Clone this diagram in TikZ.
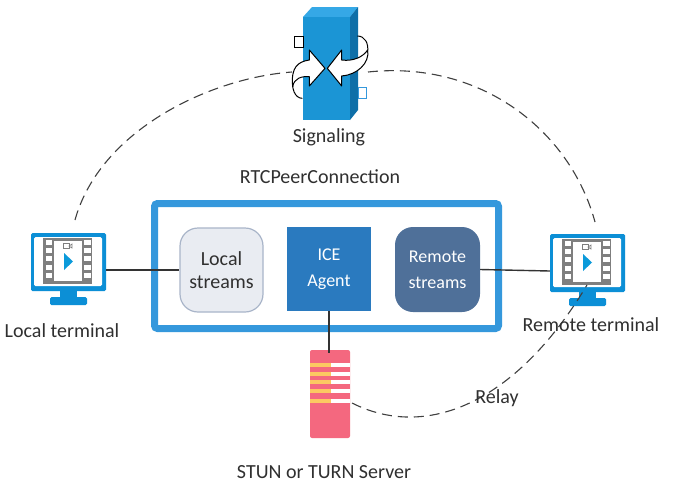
\documentclass[tikz,border=0pt]{standalone}
\usepackage{fontspec}
\setmainfont{Carlito}
\definecolor{txt}{HTML}{303030}
\definecolor{blu}{HTML}{0C8FD6}
\definecolor{boxblu}{HTML}{3598DC}
\definecolor{ice}{HTML}{2A7ABF}
\definecolor{rem}{HTML}{4F7099}
\definecolor{loc}{HTML}{E9ECF2}
\definecolor{locb}{HTML}{A9B5C9}
\definecolor{srv}{HTML}{F4687F}
\definecolor{yel}{HTML}{FCC862}
\definecolor{film}{HTML}{7F7F7F}
\definecolor{face}{HTML}{1B95D5}
\definecolor{topf}{HTML}{35A8E6}
\definecolor{sidef}{HTML}{0F6FA8}
\tikzset{
  x=1pt,y=-1pt,
  lbl/.style={font=\fontsize{20}{23}\selectfont,text=txt,inner sep=0pt,align=center},
  wlbl/.style={lbl,text=white,font=\fontsize{18}{26}\selectfont},
  conn/.style={draw=black!80,line width=1.4pt},
  dashline/.style={draw=black!75,line width=1.1pt,dash pattern=on 10pt off 6pt},
  arrowf/.style={fill=white,draw=black,line width=1pt,line join=round},
  monitor/.pic={
    \fill[blu,rounded corners=1.5pt] (0,0) rectangle (75,58);
    \fill[white,rounded corners=1.5pt] (3,4) rectangle (71,53);
    \fill[blu] (29,57) rectangle (46,65);
    \fill[blu,rounded corners=1.5pt] (19,64) rectangle (56,72);
    \fill[film] (12,5) rectangle (61,51);
    \fill[white] (23,8) rectangle (51,48);
    \foreach \yy in {7,15,23,32,40}{
      \fill[white] (14.5,\yy) rectangle (21,\yy+5);
      \fill[white] (53,\yy) rectangle (59.5,\yy+5);
    }
    \fill[blu!90!cyan] (33,20) -- (42,28.5) -- (33,37) -- cycle;
    \draw[film,line width=.7pt] (32.5,10) rectangle (38,15.5);
    \draw[film,line width=.7pt] (38,13) -- (41,11) -- (41,15) -- cycle;
  }
}
\begin{document}
\begin{tikzpicture}
\useasboundingbox[fill=white] (0,0) rectangle (675,488);
% named nodes
\node[minimum width=75pt,minimum height=58pt,inner sep=0pt] (lt) at (68.5,262) {};
\node[minimum width=75pt,minimum height=58pt,inner sep=0pt] (rt) at (587.5,263) {};
\node[minimum width=47pt,minimum height=103pt,inner sep=0pt] (sig) at (326.5,68.5) {};
% dashed curves
\coordinate (a1) at (75,220);
\coordinate (a2) at (292,72);
\coordinate (a3) at (368,72);
\coordinate (a4) at (595,222);
\coordinate (a5) at (352,403);
\coordinate (a6) at (587,285);
\draw[dashline] (a1) .. controls (100,130) and (210,78) .. (a2);
\draw[dashline] (a3) .. controls (480,60) and (570,130) .. (a4);
% main box
\node[draw=boxblu,line width=7pt,rounded corners=3pt,minimum width=344pt,minimum height=125pt,inner sep=0pt] (rtc) at (326.5,266) {};
\node[draw=locb,fill=loc,line width=1.2pt,rounded corners=18pt,minimum width=83pt,minimum height=84pt,inner sep=0pt,lbl] (ls) at (221.5,270) {Local\\streams};
\node[fill=ice,minimum width=84pt,minimum height=84pt,inner sep=0pt,wlbl] (ice) at (329,269) {ICE\\Agent};
\node[fill=rem,rounded corners=18pt,minimum width=85pt,minimum height=85pt,inner sep=0pt,wlbl] (rs) at (437.5,269.5) {Remote\\streams};
% monitors
\pic at (31,233) {monitor};
\pic at (550,234) {monitor};
% server
\node[fill=srv,rounded corners=2pt,minimum width=40pt,minimum height=88pt,inner sep=0pt] (srvn) at (330,394) {};
\foreach \yy in {365,374,382,391,401}{
  \fill[yel] (310,\yy-1.9) rectangle (331,\yy+1.9);
  \fill[white] (331,\yy-1.9) rectangle (350,\yy+1.9);
}
% connectors
\draw[conn] (lt.east |- ls.west) -- (ls.west);
\draw[conn] (rs.east) -- ([yshift=-8pt]rt.west);
\draw[conn] (ice.south) -- ([yshift=-3pt]ice.south |- srvn.north);
\draw[dashline] (a5) .. controls (425,440) and (515,405) .. (a6);
% signaling
\fill[topf] (303,17) -- (312,7) -- (358,7) -- (350,17) -- cycle;
\fill[sidef] (350,17) -- (358,7) -- (358,110) -- (350,120) -- cycle;
\fill[face] (303,17) rectangle (350,120);
\draw[black,line width=.9pt,fill=white] (294,36) rectangle (303,47);
\draw[boxblu,line width=.9pt,fill=white] (358,87) rectangle (366,98);
\begin{scope}[shift={(270,0)},x=.3333pt,y=-.3333pt]
 \draw[black,line width=1pt] (262,108) .. controls (285,108) and (296,130) .. (293,155);
 \draw[black,line width=1pt] (70,230) .. controls (62,265) and (75,295) .. (97,295);
 \draw[arrowf] (165,205) -- (118,150) -- (118,180) .. controls (85,185) and (62,200) .. (68,260) .. controls (72,235) and (95,228) .. (118,230) -- (118,258) -- cycle;
 \draw[arrowf] (172,205) -- (215,150) -- (215,180) .. controls (250,185) and (280,170) .. (293,150) .. controls (300,190) and (260,225) .. (215,228) -- (215,258) -- cycle;
\end{scope}
% labels
\node[lbl] (t1) at (329,137) {Signaling};
\node[lbl] (t2) at (320,177) {RTCPeerConnection};
\node[lbl] (t3) at (62,331) {Local terminal};
\node[lbl] (t4) at (591,325) {Remote terminal};
\node[lbl] (t5) at (497,398) {Relay};
\node[lbl] (t6) at (324,472) {STUN or TURN Server};
\end{tikzpicture}
\end{document}
